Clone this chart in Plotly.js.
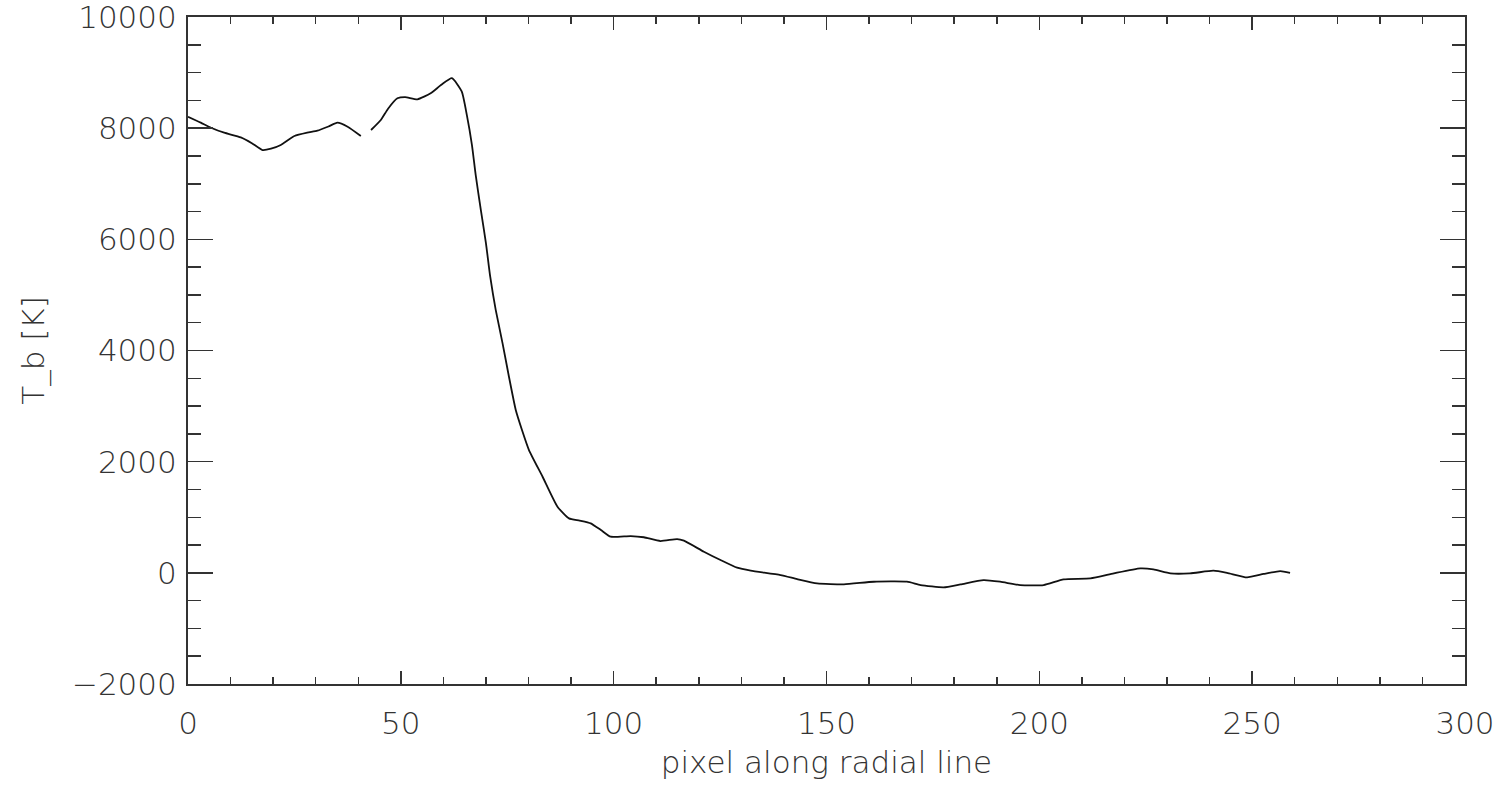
<!DOCTYPE html>
<html>
<head>
<meta charset="utf-8">
<script src="https://cdn.plot.ly/plotly-3.0.1.min.js"></script>
<style>html,body{margin:0;padding:0;background:#fff;}#chart{width:1501px;height:788px;}</style>
</head>
<body>
<div id="chart"></div>
<script>
const pixel = [0,3,5.4,8.5,12.4,15,17.5,19.5,21.8,25,28,30.4,33,35.1,37.5,40.6,42,43,45.3,47,49.2,51,53.9,57,59.5,62,64.3,65.5,66.7,67.6,68.8,70,71,72.3,73.9,75.4,77,78.5,80.1,83.3,86.8,89.5,92,94.6,97,99.3,104,107.1,111,114.9,116.5,121.2,125.1,129,132.2,139.2,143.1,147.8,154.1,161.1,168.9,172.1,177.5,181.5,186.9,190.8,195.5,201,205.7,212,217.5,223.7,226.8,230.8,235.4,240.9,244.1,248.8,252.7,256.6,258.9];
const tb = [8206,8100,8008,7918,7835,7730,7607,7630,7697,7859,7920,7955,8030,8098,8026,7859,null,7967,8147,8350,8537,8560,8519,8627,8780,8900,8660,8240,7700,7150,6527,5928,5327,4728,4129,3528,2929,2560,2209,1729,1189,980,940,890,770,650,662,640,572,608,578,380,230,92,38,-40,-112,-190,-207,-160,-160,-220,-261,-207,-130,-160,-220,-220,-117,-100,-10,80,62,-10,-10,38,0,-82,-20,32,0];
const xTitle = "pixel along radial line";
const yTitle = "T_b [K]";

const fnt = {family: "DejaVu Sans", size: 31, color: "#333", weight: 300};

Plotly.newPlot("chart", [{
  x: pixel, y: tb, type: "scatter", mode: "lines",
  line: {color: "#111", width: 1.8, shape: "spline", smoothing: 0.5},
  connectgaps: false, hoverinfo: "none"
}], {
  width: 1501, height: 788,
  margin: {l: 188, r: 36, t: 17, b: 104},
  paper_bgcolor: "#fff", plot_bgcolor: "#fff",
  showlegend: false,
  font: fnt,
  xaxis: {
    range: [0, 300], dtick: 50, tick0: 0,
    ticks: "inside", ticklen: 13, tickwidth: 1.5, tickcolor: "#333",
    minor: {dtick: 10, ticks: "inside", ticklen: 7, tickwidth: 1.5, tickcolor: "#333", showgrid: false},
    showline: true, linecolor: "#333", linewidth: 2, mirror: "ticks",
    showgrid: false, zeroline: false, tickfont: fnt, ticklabelstandoff: 11,
    ticklabeloverflow: "allow",
    title: {text: xTitle, font: fnt, standoff: 11}
  },
  yaxis: {
    range: [-2000, 10000], dtick: 2000, tick0: 0, tickformat: "d",
    ticks: "inside", ticklen: 25, tickwidth: 1.5, tickcolor: "#333",
    minor: {dtick: 500, ticks: "inside", ticklen: 13, tickwidth: 1.5, tickcolor: "#333", showgrid: false},
    showline: true, linecolor: "#333", linewidth: 2, mirror: "ticks",
    showgrid: false, zeroline: false, tickfont: fnt, ticklabelstandoff: 3,
    ticklabeloverflow: "allow",
    title: {text: yTitle, font: fnt, standoff: 18}
  }
}, {displayModeBar: false, staticPlot: true});
</script>
</body>
</html>
